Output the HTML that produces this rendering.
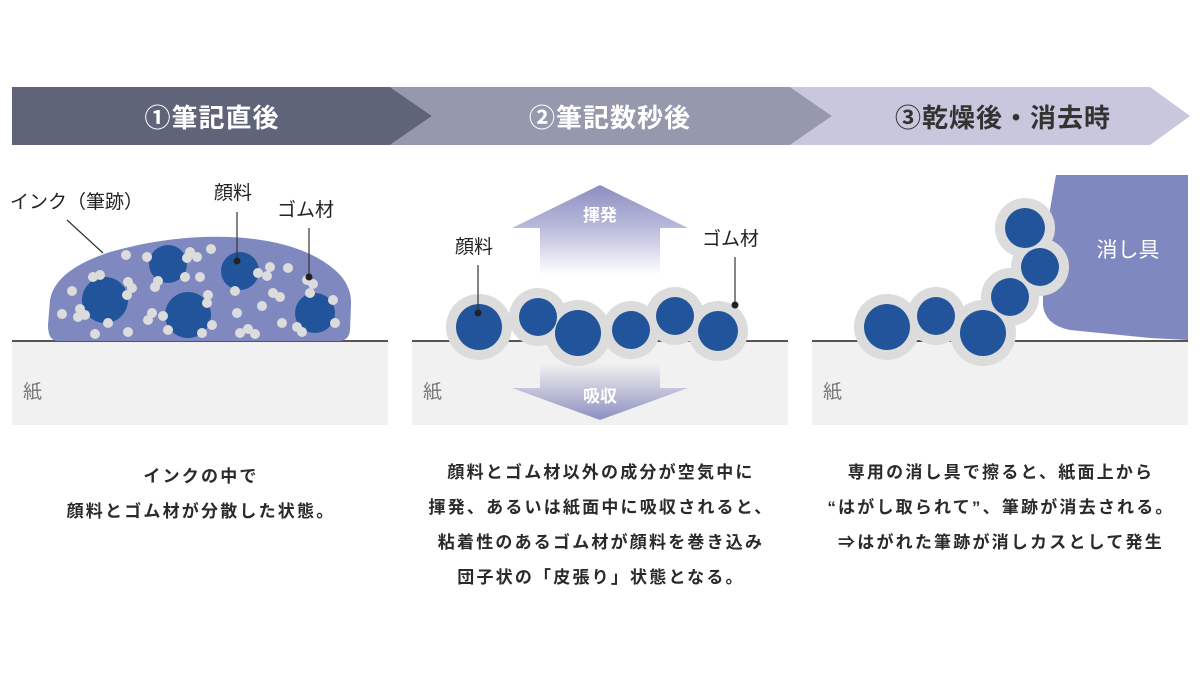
<!DOCTYPE html>
<html><head><meta charset="utf-8"><style>
html,body{margin:0;padding:0;background:#fff;}
svg{display:block;}
text{font-family:"Liberation Sans","Noto Sans CJK JP",sans-serif;}
</style></head><body>
<svg width="1200" height="675" viewBox="0 0 1200 675" xmlns="http://www.w3.org/2000/svg">
<defs>
<linearGradient id="up" x1="0" y1="0" x2="0" y2="1">
<stop offset="0" stop-color="#8c8fc0"/><stop offset="0.45" stop-color="#b6b8da"/><stop offset="1" stop-color="#ffffff"/>
</linearGradient>
<linearGradient id="dn" x1="0" y1="0" x2="0" y2="1">
<stop offset="0" stop-color="#f1f1f1"/><stop offset="1" stop-color="#8c8fc0"/>
</linearGradient>
</defs>
<!-- banner -->
<polygon points="790,87 1150,87 1190,116 1150,145 790,145 832,116" fill="#c9c7dd"/>
<polygon points="390,87 790,87 832,116 790,145 390,145 432,116" fill="#9698ad"/>
<polygon points="12,87 390,87 432,116 390,145 12,145" fill="#5f6479"/>
<text x="212" y="127" font-size="26" font-weight="bold" fill="#fff" text-anchor="middle" letter-spacing="1">①筆記直後</text>
<text x="610" y="127" font-size="26" font-weight="bold" fill="#fff" text-anchor="middle" letter-spacing="1">②筆記数秒後</text>
<text x="1003" y="127" font-size="26" font-weight="bold" fill="#333" text-anchor="middle" letter-spacing="1">③乾燥後・消去時</text>

<!-- paper -->
<rect x="12" y="341" width="376" height="84" fill="#f1f1f1"/>
<rect x="412" y="341" width="376" height="84" fill="#f1f1f1"/>
<rect x="812" y="341" width="376" height="84" fill="#f1f1f1"/>
<rect x="12" y="340" width="376" height="2" fill="#555"/>
<rect x="412" y="340" width="376" height="2" fill="#555"/>
<rect x="812" y="340" width="376" height="2" fill="#555"/>
<text x="23" y="398" font-size="19" fill="#777">紙</text>
<text x="423" y="398" font-size="19" fill="#777">紙</text>
<text x="823" y="398" font-size="19" fill="#777">紙</text>

<!-- panel 1 -->
<path d="M58,341 Q48,341 48,325 L50,300 Q55,270 110,252 Q170,235 230,237 Q300,240 335,270 Q352,285 351,305 L350,330 Q349,341 338,341 Z" fill="#8088c0"/>
<g fill="#22549b">
<circle cx="105" cy="300" r="23"/><circle cx="168" cy="264" r="19"/><circle cx="188" cy="315" r="23"/><circle cx="240" cy="271" r="19"/><circle cx="315" cy="313" r="20"/>
</g>
<g fill="#dcdcdc">
<circle cx="126" cy="255" r="5"/><circle cx="147" cy="257" r="5"/><circle cx="190" cy="252" r="5"/><circle cx="197" cy="257" r="5"/><circle cx="211" cy="249" r="5"/><circle cx="187" cy="258" r="5"/><circle cx="93" cy="277" r="5"/><circle cx="100" cy="275" r="5"/><circle cx="128" cy="282" r="5"/><circle cx="132" cy="288" r="5"/><circle cx="127" cy="295" r="5"/><circle cx="72" cy="291" r="5"/><circle cx="62" cy="314" r="5"/><circle cx="80" cy="309" r="5"/><circle cx="85" cy="315" r="5"/><circle cx="78" cy="317" r="5"/><circle cx="108" cy="323" r="5"/><circle cx="95" cy="334" r="5"/><circle cx="128" cy="332" r="5"/><circle cx="158" cy="281" r="5"/><circle cx="155" cy="287" r="5"/><circle cx="185" cy="277" r="5"/><circle cx="200" cy="277" r="5"/><circle cx="208" cy="295" r="5"/><circle cx="207" cy="303" r="5"/><circle cx="152" cy="313" r="5"/><circle cx="163" cy="316" r="5"/><circle cx="148" cy="320" r="5"/><circle cx="168" cy="330" r="5"/><circle cx="212" cy="325" r="5"/><circle cx="202" cy="333" r="5"/><circle cx="235" cy="291" r="5"/><circle cx="258" cy="273" r="5"/><circle cx="267" cy="276" r="5"/><circle cx="270" cy="267" r="5"/><circle cx="288" cy="268" r="5"/><circle cx="307" cy="280" r="5"/><circle cx="313" cy="284" r="5"/><circle cx="310" cy="293" r="5"/><circle cx="273" cy="293" r="5"/><circle cx="280" cy="297" r="5"/><circle cx="262" cy="306" r="5"/><circle cx="237" cy="313" r="5"/><circle cx="282" cy="323" r="5"/><circle cx="240" cy="333" r="5"/><circle cx="248" cy="329" r="5"/><circle cx="255" cy="334" r="5"/><circle cx="297" cy="327" r="5"/><circle cx="302" cy="332" r="5"/><circle cx="333" cy="300" r="5"/><circle cx="335" cy="323" r="5"/>
</g>
<g stroke="#333" stroke-width="1.2" fill="none">
<line x1="67" y1="220" x2="103" y2="253"/><line x1="237" y1="212" x2="237" y2="261"/><line x1="309" y1="228" x2="309" y2="277"/>
</g>
<circle cx="237" cy="261" r="3.5" fill="#222"/><circle cx="309" cy="277" r="3.5" fill="#222"/>
<text x="10" y="208" font-size="19" fill="#222">インク（筆跡）</text>
<text x="214" y="199" font-size="19" fill="#222">顔料</text>
<text x="277" y="216" font-size="19" fill="#222">ゴム材</text>

<!-- panel 2 arrows -->
<polygon points="512,228 600,185 688,228 660,228 660,275 540,275 540,228" fill="url(#up)"/>
<polygon points="540,364 660,364 660,388 688,388 600,420 512,388 540,388" fill="url(#dn)"/>
<text x="600" y="221" font-size="17" font-weight="bold" fill="#fff" text-anchor="middle">揮発</text>
<text x="600" y="402" font-size="17" font-weight="bold" fill="#fff" text-anchor="middle">吸収</text>
<g fill="#dcdcdc">
<circle cx="479" cy="327" r="33"/><circle cx="538" cy="317" r="29"/><circle cx="578" cy="333" r="33"/><circle cx="631" cy="330" r="29"/><circle cx="675" cy="316" r="29"/><circle cx="718" cy="331" r="30"/>
</g>
<g fill="#22549b">
<circle cx="479" cy="327" r="23"/><circle cx="538" cy="317" r="19"/><circle cx="578" cy="333" r="23"/><circle cx="631" cy="330" r="19"/><circle cx="675" cy="316" r="19"/><circle cx="718" cy="331" r="20"/>
</g>
<g stroke="#333" stroke-width="1.2"><line x1="478" y1="265" x2="478" y2="313"/><line x1="735" y1="257" x2="735" y2="305"/></g>
<circle cx="478" cy="313" r="3.5" fill="#222"/><circle cx="735" cy="305" r="3.5" fill="#222"/>
<text x="455" y="253" font-size="19" fill="#222">顔料</text>
<text x="702" y="245" font-size="19" fill="#222">ゴム材</text>

<!-- panel 3 -->
<path d="M1056,175 L1188,175 L1188,340 L1150,338 L1070,330 Q1045,325 1043,305 L1043,275 Q1044,240 1056,175 Z" fill="#8088c0"/>
<text x="1128" y="257" font-size="21" fill="#fff" text-anchor="middle">消し具</text>
<g fill="#dcdcdc">
<circle cx="887" cy="327" r="33"/><circle cx="936" cy="316" r="29"/><circle cx="983" cy="333" r="33"/><circle cx="1010" cy="297" r="29"/><circle cx="1040" cy="267" r="29"/><circle cx="1025" cy="228" r="30"/>
</g>
<g fill="#22549b">
<circle cx="887" cy="327" r="23"/><circle cx="936" cy="316" r="19"/><circle cx="983" cy="333" r="23"/><circle cx="1010" cy="297" r="19"/><circle cx="1040" cy="267" r="19"/><circle cx="1025" cy="228" r="20"/>
</g>

<!-- captions -->
<g font-size="17" font-weight="bold" fill="#2a2a2a" text-anchor="middle" letter-spacing="2.2">
<text x="201" y="482">インクの中で</text>
<text x="201" y="517">顔料とゴム材が分散した状態。</text>
<text x="601" y="478">顔料とゴム材以外の成分が空気中に</text>
<text x="601" y="513">揮発、あるいは紙面中に吸収されると、</text>
<text x="601" y="548">粘着性のあるゴム材が顔料を巻き込み</text>
<text x="601" y="583">団子状の「皮張り」状態となる。</text>
<text x="1001" y="478">専用の消し具で擦ると、紙面上から</text>
<text x="1001" y="513">“はがし取られて”、筆跡が消去される。</text>
<text x="1001" y="548">⇒はがれた筆跡が消しカスとして発生</text>
</g>
</svg>
</body></html>
